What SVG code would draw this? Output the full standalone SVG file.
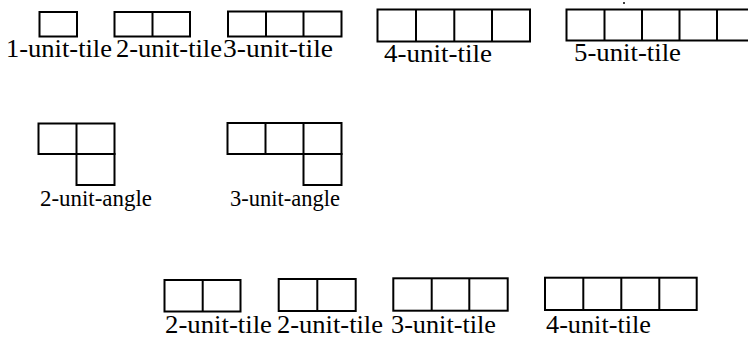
<svg xmlns="http://www.w3.org/2000/svg" width="748" height="338" viewBox="0 0 748 338">
<defs>
<rect id="cell" width="38" height="31"/>
</defs>
<rect width="748" height="338" fill="#fff"/>
<g id="tile1" fill="#fff" stroke="#000" stroke-width="2">
<rect x="39.5" y="12" width="37.5" height="24.5"/>
</g>
<g id="tile2" fill="#fff" stroke="#000" stroke-width="2">
<rect x="114.5" y="12" width="75.5" height="24.5"/>
<line x1="152.5" y1="12" x2="152.5" y2="36.5"/>
</g>
<g id="tile3" fill="#fff" stroke="#000" stroke-width="2">
<rect x="228" y="11.5" width="113.5" height="25"/>
<line x1="266" y1="11.5" x2="266" y2="36.5"/>
<line x1="303.5" y1="11.5" x2="303.5" y2="36.5"/>
</g>
<g id="tile4" fill="#fff" stroke="#000" stroke-width="2">
<rect x="377.5" y="9.5" width="152.5" height="32"/>
<line x1="416" y1="9.5" x2="416" y2="41.5"/>
<line x1="454.3" y1="9.5" x2="454.3" y2="41.5"/>
<line x1="492" y1="9.5" x2="492" y2="41.5"/>
</g>
<g id="tile5" fill="#fff" stroke="#000" stroke-width="2">
<rect x="566.5" y="9.5" width="190" height="31"/>
<line x1="604.5" y1="9.5" x2="604.5" y2="40.5"/>
<line x1="642" y1="9.5" x2="642" y2="40.5"/>
<line x1="679.5" y1="9.5" x2="679.5" y2="40.5"/>
<line x1="717" y1="9.5" x2="717" y2="40.5"/>
</g>
<circle cx="624" cy="3" r="1" fill="#000"/>
<g id="angle2" fill="#fff" stroke="#000" stroke-width="2">
<rect x="38.5" y="123.5" width="76" height="30.5"/>
<line x1="76.5" y1="123.5" x2="76.5" y2="154"/>
<rect x="76.5" y="154" width="38" height="31"/>
</g>
<g id="angle3" fill="#fff" stroke="#000" stroke-width="2">
<rect x="227.5" y="123" width="114" height="31"/>
<line x1="265.5" y1="123" x2="265.5" y2="154"/>
<line x1="303.5" y1="123" x2="303.5" y2="154"/>
<rect x="303.5" y="154" width="38" height="31"/>
</g>
<g id="btile2a" fill="#fff" stroke="#000" stroke-width="2">
<rect x="164.5" y="280" width="76" height="31.5"/>
<line x1="202.7" y1="280" x2="202.7" y2="311.5"/>
</g>
<g id="btile2b" fill="#fff" stroke="#000" stroke-width="2">
<rect x="278.7" y="279" width="77" height="32"/>
<line x1="317.3" y1="279" x2="317.3" y2="311"/>
</g>
<g id="btile3" fill="#fff" stroke="#000" stroke-width="2">
<rect x="393.3" y="278.3" width="114.4" height="32.4"/>
<line x1="431.7" y1="278.3" x2="431.7" y2="310.7"/>
<line x1="469.3" y1="278.3" x2="469.3" y2="310.7"/>
</g>
<g id="btile4" fill="#fff" stroke="#000" stroke-width="2">
<rect x="545" y="277.7" width="151.7" height="32.3"/>
<line x1="583.3" y1="277.7" x2="583.3" y2="310"/>
<line x1="621.3" y1="277.7" x2="621.3" y2="310"/>
<line x1="659.3" y1="277.7" x2="659.3" y2="310"/>
</g>
<text x="6" y="57" font-family="'Liberation Serif', serif" font-size="26" textLength="106" lengthAdjust="spacingAndGlyphs">1-unit-tile</text>
<text x="116" y="57" font-family="'Liberation Serif', serif" font-size="26" textLength="106" lengthAdjust="spacingAndGlyphs">2-unit-tile</text>
<text x="223" y="57" font-family="'Liberation Serif', serif" font-size="26" textLength="110" lengthAdjust="spacingAndGlyphs">3-unit-tile</text>
<text x="384" y="62" font-family="'Liberation Serif', serif" font-size="26" textLength="108" lengthAdjust="spacingAndGlyphs">4-unit-tile</text>
<text x="574" y="61" font-family="'Liberation Serif', serif" font-size="26" textLength="107" lengthAdjust="spacingAndGlyphs">5-unit-tile</text>
<text x="40" y="206" font-family="'Liberation Serif', serif" font-size="24" textLength="112" lengthAdjust="spacingAndGlyphs">2-unit-angle</text>
<text x="230" y="206" font-family="'Liberation Serif', serif" font-size="24" textLength="110" lengthAdjust="spacingAndGlyphs">3-unit-angle</text>
<text x="165" y="333" font-family="'Liberation Serif', serif" font-size="26" textLength="107" lengthAdjust="spacingAndGlyphs">2-unit-tile</text>
<text x="277" y="333" font-family="'Liberation Serif', serif" font-size="26" textLength="106" lengthAdjust="spacingAndGlyphs">2-unit-tile</text>
<text x="391" y="333" font-family="'Liberation Serif', serif" font-size="26" textLength="105" lengthAdjust="spacingAndGlyphs">3-unit-tile</text>
<text x="546" y="333" font-family="'Liberation Serif', serif" font-size="26" textLength="105" lengthAdjust="spacingAndGlyphs">4-unit-tile</text>
<g id="connectors"/>
</svg>
